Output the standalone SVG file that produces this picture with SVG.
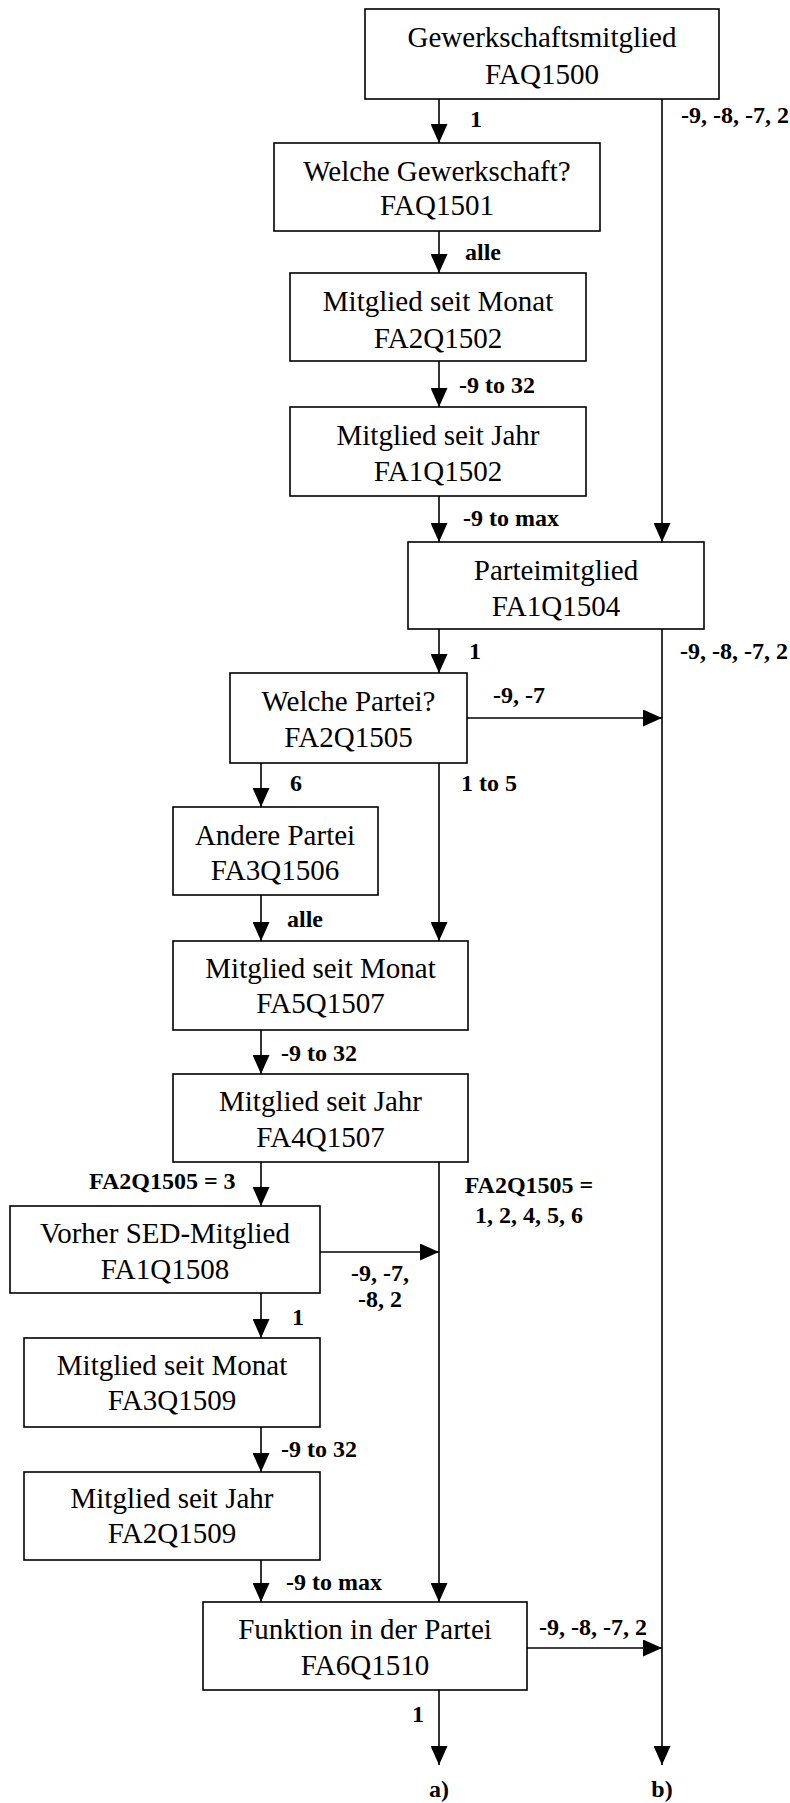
<svg xmlns="http://www.w3.org/2000/svg" width="790" height="1803" viewBox="0 0 790 1803">
<style>
.box{fill:#fff;stroke:#000;stroke-width:1.6}
.nt{font-family:"Liberation Serif","Times New Roman",serif;font-size:29px;text-anchor:middle;fill:#000}
.lb{font-family:"Liberation Serif","Times New Roman",serif;font-size:24px;font-weight:bold;fill:#000}
.c{stroke:#000;stroke-width:1.6;fill:none}
.a{marker-end:url(#arr)}
</style>
<defs>
<marker id="arr" markerUnits="userSpaceOnUse" markerWidth="19" markerHeight="17" refX="19" refY="8.5" orient="auto">
<path d="M0,0 L19,8.5 L0,17 z" fill="#000"/>
</marker>
</defs>
<rect width="790" height="1803" fill="#fff"/>
<g id="connectors">
<line class="c a" x1="439" y1="99" x2="439" y2="143"/>
<line class="c a" x1="662" y1="99" x2="662" y2="542"/>
<line class="c a" x1="439" y1="231" x2="439" y2="273"/>
<line class="c a" x1="439" y1="361" x2="439" y2="407"/>
<line class="c a" x1="439" y1="496" x2="439" y2="542"/>
<line class="c a" x1="439" y1="629" x2="439" y2="673"/>
<line class="c a" x1="662" y1="629" x2="662" y2="1765"/>
<line class="c a" x1="467" y1="718" x2="662" y2="718"/>
<line class="c a" x1="261" y1="763" x2="261" y2="807"/>
<line class="c a" x1="439" y1="763" x2="439" y2="941"/>
<line class="c a" x1="261" y1="895" x2="261" y2="941"/>
<line class="c a" x1="261" y1="1030" x2="261" y2="1074"/>
<line class="c a" x1="261" y1="1162" x2="261" y2="1206"/>
<line class="c a" x1="439" y1="1162" x2="439" y2="1602"/>
<line class="c a" x1="320" y1="1252" x2="439" y2="1252"/>
<line class="c a" x1="261" y1="1293" x2="261" y2="1338"/>
<line class="c a" x1="261" y1="1427" x2="261" y2="1472"/>
<line class="c a" x1="261" y1="1560" x2="261" y2="1602"/>
<line class="c a" x1="527" y1="1648" x2="662" y2="1648"/>
<line class="c a" x1="439" y1="1690" x2="439" y2="1765"/>
<text class="lb" x="470" y="127">1</text>
<text class="lb" x="681" y="123">-9, -8, -7, 2</text>
<text class="lb" x="465" y="260">alle</text>
<text class="lb" x="459" y="393">-9 to 32</text>
<text class="lb" x="463" y="526">-9 to max</text>
<text class="lb" x="469" y="659">1</text>
<text class="lb" x="680" y="659">-9, -8, -7, 2</text>
<text class="lb" x="493" y="703">-9, -7</text>
<text class="lb" x="290" y="791">6</text>
<text class="lb" x="461" y="791">1 to 5</text>
<text class="lb" x="287" y="927">alle</text>
<text class="lb" x="281" y="1061">-9 to 32</text>
<text class="lb" x="89" y="1189">FA2Q1505 = 3</text>
<text class="lb" x="529" y="1193" text-anchor="middle">FA2Q1505 =</text>
<text class="lb" x="529" y="1223" text-anchor="middle">1, 2, 4, 5, 6</text>
<text class="lb" x="380" y="1281" text-anchor="middle">-9, -7,</text>
<text class="lb" x="380" y="1307" text-anchor="middle">-8, 2</text>
<text class="lb" x="292" y="1325">1</text>
<text class="lb" x="281" y="1457">-9 to 32</text>
<text class="lb" x="286" y="1590">-9 to max</text>
<text class="lb" x="539" y="1635">-9, -8, -7, 2</text>
<text class="lb" x="412" y="1722">1</text>
<text class="lb" x="439" y="1797" text-anchor="middle">a)</text>
<text class="lb" x="662" y="1797" text-anchor="middle">b)</text>
</g>
<g id="n1"><rect class="box" x="365" y="9" width="354" height="90"/><text class="nt" x="542" y="47">Gewerkschaftsmitglied</text><text class="nt" x="542" y="84">FAQ1500</text></g>
<g id="n2"><rect class="box" x="274" y="143" width="326" height="88"/><text class="nt" x="437" y="181">Welche Gewerkschaft?</text><text class="nt" x="437" y="215">FAQ1501</text></g>
<g id="n3"><rect class="box" x="290" y="273" width="296" height="88"/><text class="nt" x="438" y="311">Mitglied seit Monat</text><text class="nt" x="438" y="348">FA2Q1502</text></g>
<g id="n4"><rect class="box" x="290" y="407" width="296" height="89"/><text class="nt" x="438" y="445">Mitglied seit Jahr</text><text class="nt" x="438" y="481">FA1Q1502</text></g>
<g id="n5"><rect class="box" x="408" y="542" width="296" height="87"/><text class="nt" x="556" y="580">Parteimitglied</text><text class="nt" x="556" y="616">FA1Q1504</text></g>
<g id="n6"><rect class="box" x="230" y="673" width="237" height="90"/><text class="nt" x="348.5" y="711">Welche Partei?</text><text class="nt" x="348.5" y="747">FA2Q1505</text></g>
<g id="n7"><rect class="box" x="173" y="807" width="205" height="88"/><text class="nt" x="275" y="845">Andere Partei</text><text class="nt" x="275" y="880">FA3Q1506</text></g>
<g id="n8"><rect class="box" x="173" y="941" width="295" height="89"/><text class="nt" x="320.5" y="978">Mitglied seit Monat</text><text class="nt" x="320.5" y="1013">FA5Q1507</text></g>
<g id="n9"><rect class="box" x="173" y="1074" width="295" height="88"/><text class="nt" x="320.5" y="1111">Mitglied seit Jahr</text><text class="nt" x="320.5" y="1147">FA4Q1507</text></g>
<g id="n10"><rect class="box" x="10" y="1206" width="310" height="87"/><text class="nt" x="165" y="1243">Vorher SED-Mitglied</text><text class="nt" x="165" y="1279">FA1Q1508</text></g>
<g id="n11"><rect class="box" x="24" y="1338" width="296" height="89"/><text class="nt" x="172" y="1375">Mitglied seit Monat</text><text class="nt" x="172" y="1410">FA3Q1509</text></g>
<g id="n12"><rect class="box" x="24" y="1472" width="296" height="88"/><text class="nt" x="172" y="1508">Mitglied seit Jahr</text><text class="nt" x="172" y="1543">FA2Q1509</text></g>
<g id="n13"><rect class="box" x="203" y="1602" width="324" height="88"/><text class="nt" x="365" y="1639">Funktion in der Partei</text><text class="nt" x="365" y="1675">FA6Q1510</text></g>
</svg>
